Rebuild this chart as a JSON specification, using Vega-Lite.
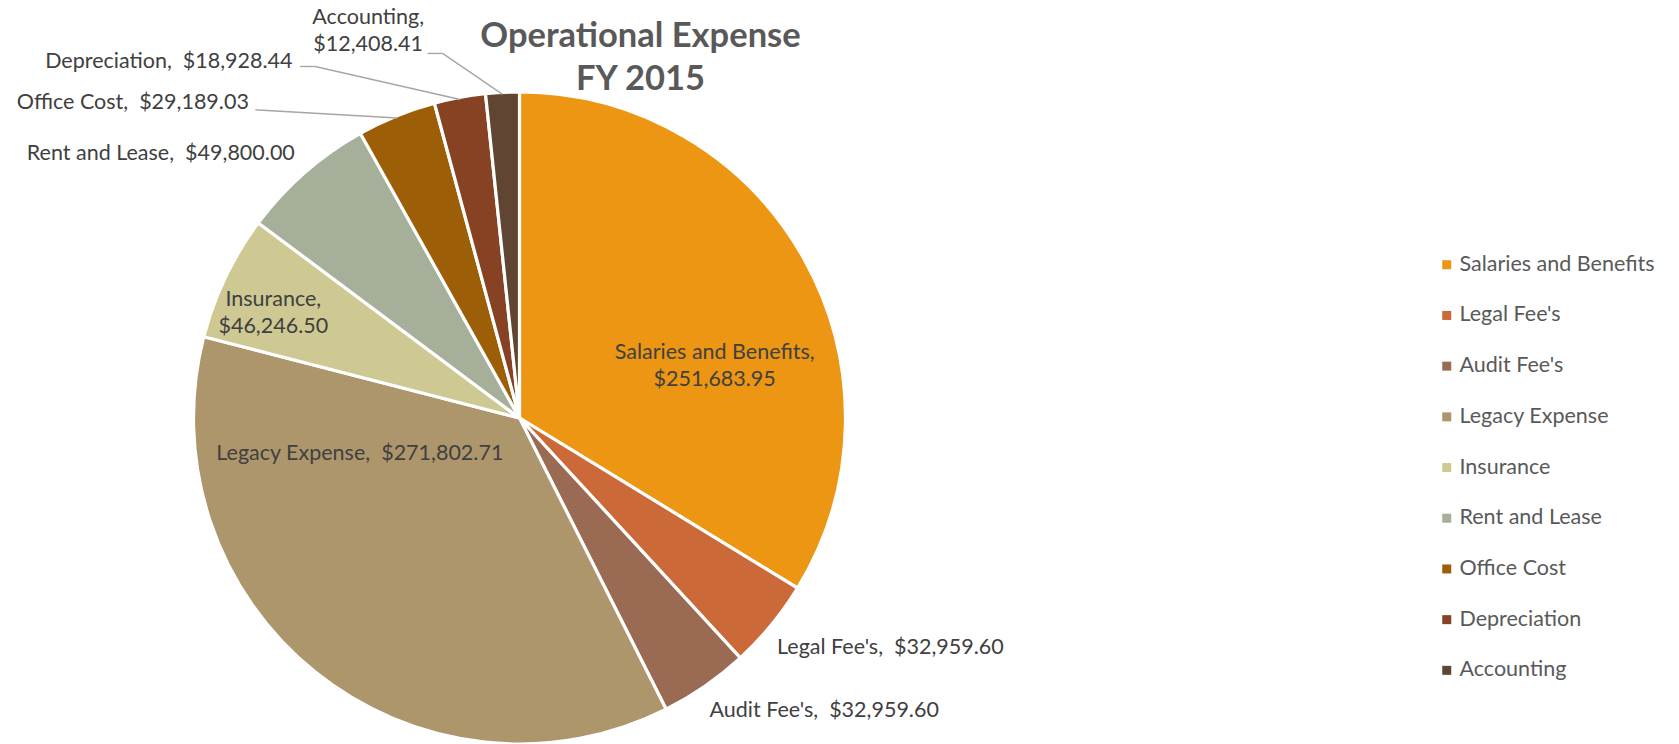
{
  "$schema": "https://vega.github.io/schema/vega-lite/v6.json",
  "width": 1039,
  "height": 836,
  "autosize": {"type": "none"},
  "padding": {"left": 0, "top": 0, "right": 640, "bottom": 0},
  "background": "white",
  "config": {
    "view": {"stroke": null},
    "text": {"font": "Lato", "fontSize": 21.5, "color": "#404040", "baseline": "middle", "lineBreak": "\n", "lineHeight": 27}
  },
  "title": {
    "text": ["Operational Expense", "FY 2015"],
    "font": "Lato",
    "fontSize": 34.5,
    "fontWeight": "bold",
    "color": "#595959",
    "anchor": "middle",
    "dx": 121,
    "offset": -97,
    "lineHeight": 43
  },
  "data": {
    "values": [
      {"category": "Salaries and Benefits", "value": 251683.95},
      {"category": "Legal Fee's", "value": 32959.60},
      {"category": "Audit Fee's", "value": 32959.60},
      {"category": "Legacy Expense", "value": 271802.71},
      {"category": "Insurance", "value": 46246.50},
      {"category": "Rent and Lease", "value": 49800.00},
      {"category": "Office Cost", "value": 29189.03},
      {"category": "Depreciation", "value": 18928.44},
      {"category": "Accounting", "value": 12408.41}
    ]
  },
  "transform": [
    {"window": [{"op": "sum", "field": "value", "as": "cum"}], "frame": [null, 0]},
    {"joinaggregate": [{"op": "sum", "field": "value", "as": "total"}]},
    {"calculate": "2*PI*(datum.cum-datum.value)/datum.total", "as": "t0"},
    {"calculate": "2*PI*datum.cum/datum.total", "as": "t1"},
    {"calculate": "(datum.t0+datum.t1)/2", "as": "tm"},
    {"calculate": "datum.category + ',\u00a0 ' + format(datum.value, '$,.2f')", "as": "label"},
    {"calculate": "datum.category + ',\\n' + format(datum.value, '$,.2f')", "as": "label2"}
  ],
  "layer": [
    {
      "mark": {"type": "arc", "outerRadius": 326, "stroke": "white", "strokeWidth": 3.2},
      "encoding": {
        "theta": {"field": "t0", "type": "quantitative", "scale": null, "stack": null},
        "theta2": {"field": "t1"},
        "color": {
          "field": "category",
          "type": "nominal",
          "scale": {
            "domain": ["Salaries and Benefits", "Legal Fee's", "Audit Fee's", "Legacy Expense", "Insurance", "Rent and Lease", "Office Cost", "Depreciation", "Accounting"],
            "range": ["#EC9613", "#CB6A38", "#9B6A53", "#AD956C", "#CEC893", "#A6AF9A", "#9C5F08", "#864222", "#604532"]
          },
          "legend": {
            "title": null,
            "orient": "none",
            "legendX": 1436,
            "legendY": 254,
            "symbolType": "square",
            "symbolSize": 81,
            "symbolStrokeWidth": 0,
            "labelFont": "Lato",
            "labelFontSize": 21.5,
            "labelColor": "#595959",
            "labelOffset": 2,
            "labelLimit": 400,
            "rowPadding": 27.7
          }
        }
      }
    },
    {
      "transform": [
        {"filter": {"field": "category", "oneOf": ["Office Cost", "Depreciation", "Accounting"]}},
        {"calculate": "width/2 + 324*sin(datum.tm)", "as": "sx"},
        {"calculate": "height/2 - 324*cos(datum.tm)", "as": "sy"},
        {"calculate": "datum.category === 'Office Cost' ? datum.sx - 142 : datum.category === 'Depreciation' ? datum.sx - 160 : datum.sx - 75", "as": "ex"},
        {"calculate": "datum.category === 'Office Cost' ? datum.sy - 8 : datum.category === 'Depreciation' ? datum.sy - 33 : datum.sy - 41", "as": "ey"},
        {"calculate": "datum.category === 'Office Cost' ? datum.ex + 3 : datum.ex + 15", "as": "kx"}
      ],
      "layer": [
        {
          "mark": {"type": "rule", "color": "#A6A6A6", "strokeWidth": 1.4},
          "encoding": {
            "x": {"field": "sx", "type": "quantitative", "scale": null},
            "y": {"field": "sy", "type": "quantitative", "scale": null},
            "x2": {"field": "kx"},
            "y2": {"field": "ey"}
          }
        },
        {
          "mark": {"type": "rule", "color": "#A6A6A6", "strokeWidth": 1.4},
          "encoding": {
            "x": {"field": "kx", "type": "quantitative", "scale": null},
            "y": {"field": "ey", "type": "quantitative", "scale": null},
            "x2": {"field": "ex"},
            "y2": {"field": "ey"}
          }
        }
      ]
    },
    {
      "transform": [{"filter": {"field": "category", "equal": "Salaries and Benefits"}}],
      "mark": {"type": "text", "radius": 202, "dx": 19, "dy": 34, "align": "center"},
      "encoding": {"theta": {"field": "tm", "type": "quantitative", "scale": null, "stack": null}, "text": {"field": "label2"}}
    },
    {
      "transform": [{"filter": {"field": "category", "equal": "Legacy Expense"}}],
      "mark": {"type": "text", "radius": 127, "dx": -80, "dy": -63, "align": "center"},
      "encoding": {"theta": {"field": "tm", "type": "quantitative", "scale": null, "stack": null}, "text": {"field": "label"}}
    },
    {
      "transform": [{"filter": {"field": "category", "equal": "Insurance"}}],
      "mark": {"type": "text", "radius": 273, "dx": 0, "dy": 0, "align": "center"},
      "encoding": {"theta": {"field": "tm", "type": "quantitative", "scale": null, "stack": null}, "text": {"field": "label2"}}
    },
    {
      "transform": [{"filter": {"field": "category", "equal": "Legal Fee's"}}],
      "mark": {"type": "text", "radius": 345, "dx": -9, "dy": 11, "align": "left"},
      "encoding": {"theta": {"field": "tm", "type": "quantitative", "scale": null, "stack": null}, "text": {"field": "label"}}
    },
    {
      "transform": [{"filter": {"field": "category", "equal": "Audit Fee's"}}],
      "mark": {"type": "text", "radius": 348, "dx": -8, "dy": 7, "align": "left"},
      "encoding": {"theta": {"field": "tm", "type": "quantitative", "scale": null, "stack": null}, "text": {"field": "label"}}
    },
    {
      "transform": [{"filter": {"field": "category", "equal": "Rent and Lease"}}],
      "mark": {"type": "text", "radius": 347, "dx": 4, "dy": -3, "align": "right"},
      "encoding": {"theta": {"field": "tm", "type": "quantitative", "scale": null, "stack": null}, "text": {"field": "label"}}
    },
    {
      "transform": [{"filter": {"field": "category", "equal": "Office Cost"}}],
      "mark": {"type": "text", "radius": 394, "dx": -122, "dy": 50, "align": "right"},
      "encoding": {"theta": {"field": "tm", "type": "quantitative", "scale": null, "stack": null}, "text": {"field": "label"}}
    },
    {
      "transform": [{"filter": {"field": "category", "equal": "Depreciation"}}],
      "mark": {"type": "text", "radius": 393, "dx": -155, "dy": 30, "align": "right"},
      "encoding": {"theta": {"field": "tm", "type": "quantitative", "scale": null, "stack": null}, "text": {"field": "label"}}
    },
    {
      "transform": [{"filter": {"field": "category", "equal": "Accounting"}}],
      "mark": {"type": "text", "radius": 408, "dx": -130, "dy": 7, "align": "center"},
      "encoding": {"theta": {"field": "tm", "type": "quantitative", "scale": null, "stack": null}, "text": {"field": "label2"}}
    }
  ]
}
